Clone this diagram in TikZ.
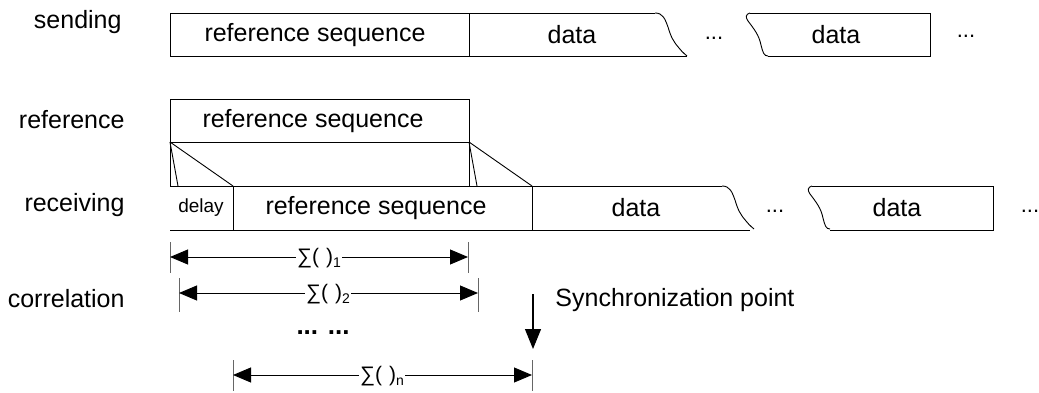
\documentclass[tikz,border=0pt]{standalone}
\usepackage{fontspec}
\setmainfont{Liberation Sans}
\usetikzlibrary{arrows.meta}
\begin{document}
\begin{tikzpicture}[x=1pt,y=-1pt,line width=0.9pt,
  lbl/.style={font=\fontsize{25}{28}\selectfont,anchor=east,inner sep=0pt},
  txt/.style={font=\fontsize{25}{28}\selectfont,inner sep=0pt},
  small/.style={font=\fontsize{19}{22}\selectfont,inner sep=0pt},
  dots/.style={font=\fontsize{22}{24}\selectfont,inner sep=0pt},
  sumlbl/.style={font=\fontsize{21}{22}\selectfont,fill=white,inner sep=1pt},
  tick/.style={draw=black!60,line width=0.9pt},
  dim/.style={{Triangle[length=18pt,width=15pt]}-{Triangle[length=18pt,width=15pt]}},
  wavyR/.pic={\draw (0,0) .. controls (8,0) and (10,6) .. (13,14) .. controls (16,24) and (18,28) .. (24,35) .. controls (28,40) and (31,42) .. (32,43);},
  wavyL/.pic={\draw (0,0) .. controls (-4,1) and (-5,4) .. (-2,8) .. controls (4,16) and (9,22) .. (11,32) .. controls (13,40) and (14,43) .. (18,43);}
]
\useasboundingbox (0,0) rectangle (1039,393);

% labels
\node[lbl] (lsend) at (122,22) {sending};
\node[lbl] (lref) at (125,120) {reference};
\node[lbl] (lrecv) at (125,205) {receiving};
\node[lbl] (lcorr) at (125,299) {correlation};

% sending row
\draw (469,13) -- (170,13) -- (170,56) -- (469,56) -- cycle;
\draw (469,13) -- (655,13);
\draw (469,56) -- (687,56);
\pic at (655,13) {wavyR};
\node[txt] (s1) at (315,35) {reference sequence};
\node[txt] (s2) at (572,35) {data};
\node[dots] (sd1) at (714,38) {...};
\pic at (750,13) {wavyL};
\draw (750,13) -- (930,13) -- (930,56) -- (768,56);
\node[txt] (s3) at (836,35) {data};
\node[dots] (sd2) at (966,36) {...};

% reference row
\draw (170,99) rectangle (469,142);
\draw (170,142) -- (170,186);
\draw (469,142) -- (469,186);
\node[txt] (r1) at (313,121) {reference sequence};
\draw (170,142) -- (178,186);
\draw (170,142) -- (233,186);
\draw (469,142) -- (477,186);
\draw (469,142) -- (532,186);

% receiving row
\draw (170,186) -- (722,186);
\draw (170,230) -- (750,230);
\draw (233,186) -- (233,230);
\draw (532,186) -- (532,230);
\pic at (722,186) {wavyR};
\node[small] (delay) at (201,208) {delay};
\node[txt] (v1) at (376,208) {reference sequence};
\node[txt] (v2) at (636,208) {data};
\node[dots] (vd1) at (775,211) {...};
\pic at (812,186) {wavyL};
\draw (812,186) -- (993,186) -- (993,230) -- (830,230);
\node[txt] (v3) at (897,208) {data};
\node[dots] (vd2) at (1030,211) {...};

% correlation dimension lines
\coordinate (a1) at (170,257); \coordinate (b1) at (468,257);
\draw[tick] (170,242) -- (170,273);
\draw[tick] (468,242) -- (468,273);
\draw[dim] (a1) -- (b1);
\node[sumlbl] (sum1) at (319,258) {∑(\hspace{7pt})\raisebox{-0.4ex}{\fontsize{14}{16}\selectfont 1}};

\coordinate (a2) at (179,293); \coordinate (b2) at (478,293);
\draw[tick] (179,278) -- (179,312);
\draw[tick] (478,278) -- (478,312);
\draw[dim] (a2) -- (b2);
\node[sumlbl] (sum2) at (328,294) {∑(\hspace{7pt})\raisebox{-0.4ex}{\fontsize{14}{16}\selectfont 2}};

\node[font=\bfseries\fontsize{26}{28}\selectfont,inner sep=0pt] (vdots) at (323,333) {... ...};

\coordinate (an) at (233,375); \coordinate (bn) at (532,375);
\draw[tick] (233,360) -- (233,391);
\draw[tick] (532,360) -- (532,391);
\draw[dim] (an) -- (bn);
\node[sumlbl] (sumn) at (382,376) {∑(\hspace{7pt})\raisebox{-0.4ex}{\fontsize{14}{16}\selectfont n}};

% synchronization point
\coordinate (sp1) at (533,294); \coordinate (sp2) at (533,349);
\draw[line width=1.2pt,-{Triangle[length=20pt,width=16pt]}] (sp1) -- (sp2);
\node[txt,anchor=west] (sync) at (555,300) {Synchronization point};
\end{tikzpicture}
\end{document}
